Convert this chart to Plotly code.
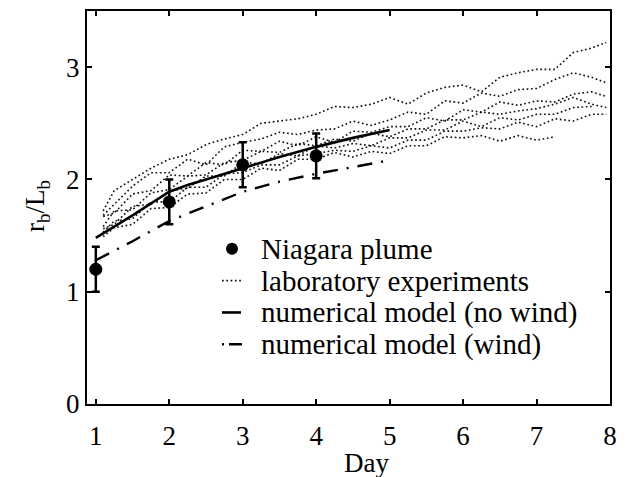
import plotly.graph_objects as go

# ---------------- data ----------------
days = [1, 2, 3, 4]
niagara = [1.20, 1.80, 2.13, 2.21]
niagara_err = [0.20, 0.20, 0.20, 0.20]

no_wind_x = [1, 1.5, 2, 2.25, 2.5, 3, 3.5, 4, 4.5, 5]
no_wind_y = [1.48, 1.68, 1.89, 1.95, 2.00, 2.10, 2.20, 2.29, 2.37, 2.44]

wind_x = [1, 1.5, 2, 2.5, 3, 3.5, 4, 4.5, 5]
wind_y = [1.28, 1.45, 1.63, 1.76, 1.89, 1.98, 2.05, 2.11, 2.17]

lab_x = [1.1, 1.25, 1.5, 1.75, 2.0, 2.25, 2.5, 2.75, 3.0, 3.25, 3.5, 3.75, 4.0,
         4.25, 4.5, 4.75, 5.0, 5.25, 5.5, 5.75, 6.0, 6.25, 6.5, 6.75, 7.0,
         7.25, 7.5, 7.75, 7.95]
lab_a = [1.72, 1.90, 2.00, 2.10, 2.18, 2.22, 2.31, 2.36, 2.40, 2.50, 2.52, 2.54, 2.58,
         2.65, 2.64, 2.67, 2.73, 2.67, 2.77, 2.82, 2.84, 2.78, 2.91, 2.95, 2.98,
         2.98, 3.13, 3.17, 3.22]
lab_b = [1.68, 1.78, 1.94, 2.06, 2.06, 2.18, 2.13, 2.29, 2.33, 2.36, 2.42, 2.40, 2.44,
         2.45, 2.52, 2.48, 2.53, 2.60, 2.58, 2.70, 2.68, 2.77, 2.74, 2.80, 2.81,
         2.89, 2.95, 2.91, 2.86]
lab_c = [1.67, 1.70, 1.87, 1.90, 2.04, 2.03, 2.15, 2.13, 2.26, 2.25, 2.34, 2.30, 2.38,
         2.33, 2.43, 2.42, 2.47, 2.47, 2.55, 2.52, 2.62, 2.60, 2.69, 2.66, 2.70,
         2.69, 2.76, 2.78, 2.74]
lab_d = [1.58, 1.72, 1.73, 1.88, 1.91, 2.03, 2.04, 2.15, 2.17, 2.25, 2.24, 2.32, 2.30,
         2.36, 2.34, 2.41, 2.38, 2.45, 2.45, 2.53, 2.53, 2.60, 2.58, 2.61, 2.63,
         2.67, 2.73, 2.67, 2.64]
lab_e = [1.56, 1.60, 1.76, 1.78, 1.90, 1.92, 2.03, 2.03, 2.15, 2.14, 2.23, 2.21, 2.30,
         2.28, 2.32, 2.30, 2.37, 2.37, 2.44, 2.44, 2.52, 2.47, 2.55, 2.53, 2.58,
         2.58, 2.64, 2.65, None]
lab_f = [1.53, 1.63, 1.65, 1.80, 1.80, 1.93, 1.93, 2.05, 2.06, 2.13, 2.13, 2.21, 2.23,
         2.26, 2.25, 2.30, 2.28, 2.35, 2.35, 2.43, 2.43, 2.46, 2.45, 2.51, 2.47,
         2.54, 2.52, 2.58, 2.58]
lab_g = [1.49, 1.57, 1.60, 1.74, 1.75, 1.87, 1.88, 2.00, 2.00, 2.10, 2.08, 2.18, 2.18,
         2.24, 2.20, 2.25, 2.23, 2.30, 2.30, 2.38, 2.37, 2.39, 2.34, 2.39, 2.35,
         2.38, None, None, None]
lab_runs = [lab_a, lab_b, lab_c, lab_d, lab_e, lab_f, lab_g]

x_ticks = [1, 2, 3, 4, 5, 6, 7, 8]
y_ticks = [0, 1, 2, 3]

legend_labels = ["Niagara plume", "laboratory experiments",
                 "numerical model (no wind)", "numerical model (wind)"]

# ---------------- styling ----------------
FONT = "Liberation Serif"
X0, X1 = 0.88, 8.0
Y0, Y1 = 0.0, 3.5
W, H = 629, 477
ML, MT, MR, MB = 87, 9, 19, 73
PW, PH = W - ML - MR, H - MT - MB

DOT = "1.7px,2.6px"
DASHDOT = "15px,9px,2px,9px"

fig = go.Figure()

for run in lab_runs:
    fig.add_trace(go.Scatter(x=lab_x, y=run, mode="lines",
                             line=dict(color="#111111", width=1.6, dash=DOT),
                             showlegend=False, hoverinfo="skip"))

fig.add_trace(go.Scatter(x=no_wind_x, y=no_wind_y, mode="lines",
                         line=dict(color="black", width=2.6),
                         showlegend=False))
fig.add_trace(go.Scatter(x=wind_x, y=wind_y, mode="lines",
                         line=dict(color="black", width=2.4, dash=DASHDOT),
                         showlegend=False))
fig.add_trace(go.Scatter(x=days, y=niagara, mode="markers",
                         marker=dict(color="black", size=13),
                         error_y=dict(type="data", array=niagara_err, visible=True,
                                      color="black", thickness=2.5, width=4),
                         showlegend=False))

# ---------------- manual legend (pixel-tuned positions) ----------------
def px_x(p):
    return (p - ML) / PW

def px_y(p):
    return (H - MB - p) / PH

rows = [248, 280, 312, 344]
text_left = 259
for lab, r in zip(legend_labels, rows):
    fig.add_annotation(x=px_x(text_left), y=px_y(r), xref="paper", yref="paper",
                       text=lab, showarrow=False, xanchor="left", yanchor="middle",
                       font=dict(family=FONT, size=29, color="black"))

fig.add_shape(type="circle", xref="paper", yref="paper",
              xsizemode="pixel", ysizemode="pixel",
              xanchor=px_x(232), yanchor=px_y(rows[0]),
              x0=-6, x1=6, y0=-6, y1=6,
              fillcolor="black", line=dict(color="black", width=0))
fig.add_shape(type="line", xref="paper", yref="paper",
              x0=px_x(222), x1=px_x(241), y0=px_y(rows[1]), y1=px_y(rows[1]),
              line=dict(color="#111111", width=1.6, dash=DOT))
fig.add_shape(type="line", xref="paper", yref="paper",
              x0=px_x(222), x1=px_x(241), y0=px_y(rows[2]), y1=px_y(rows[2]),
              line=dict(color="black", width=2.6))
fig.add_shape(type="line", xref="paper", yref="paper",
              x0=px_x(222), x1=px_x(242), y0=px_y(rows[3]), y1=px_y(rows[3]),
              line=dict(color="black", width=2.4, dash="2px,5px,13px,9px"))

# axis titles
fig.add_annotation(x=px_x(37), y=px_y(205), xref="paper", yref="paper",
                   text="r<sub>b</sub>/L<sub>b</sub>", textangle=-90, showarrow=False,
                   xanchor="center", yanchor="middle",
                   font=dict(family=FONT, size=27, color="black"))
fig.add_annotation(x=px_x(366), y=px_y(463), xref="paper", yref="paper",
                   text="Day", showarrow=False, xanchor="center", yanchor="middle",
                   font=dict(family=FONT, size=27, color="black"))

axis_common = dict(showgrid=False, zeroline=False, showline=True, linecolor="black",
                   linewidth=2.2, mirror="ticks", ticks="inside", ticklen=5,
                   tickwidth=1.8, tickcolor="black",
                   tickfont=dict(family=FONT, size=27, color="black"))

fig.update_xaxes(range=[X0, X1], tickvals=x_ticks, ticktext=[str(v) for v in x_ticks],
                 ticklabelstandoff=6, **axis_common)
fig.update_yaxes(range=[Y0, Y1], tickvals=y_ticks, ticktext=[str(v) for v in y_ticks],
                 **axis_common)

fig.update_layout(width=W, height=H,
                  margin=dict(l=ML, r=MR, t=MT, b=MB, pad=0),
                  plot_bgcolor="white", paper_bgcolor="white",
                  showlegend=False,
                  font=dict(family=FONT, color="black"))

# remove the default page margin so the figure sits at the window origin
fig.write_html("out.html",
               config={"displayModeBar": False},
               post_script="document.body.style.margin='0';"
                           "document.body.style.overflow='hidden';")
